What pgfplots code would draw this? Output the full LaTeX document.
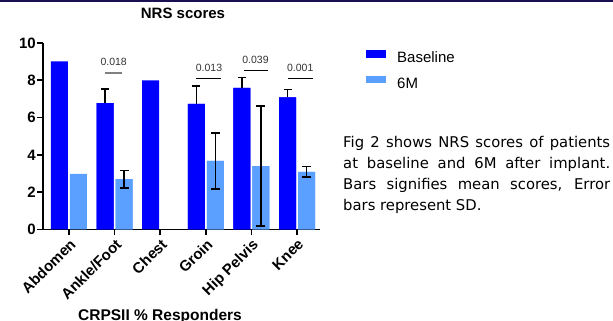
\documentclass[border=0pt]{standalone}
\usepackage{fontspec}
\setmainfont{Liberation Sans}
\newfontfamily\capfont{DejaVu Sans}
\usepackage{pgfplots}
\pgfplotsset{compat=1.18}
\definecolor{basec}{HTML}{0000FF}
\definecolor{sixm}{HTML}{5CA0FF}
\definecolor{topbar}{HTML}{1A0F50}
\definecolor{sigtext}{HTML}{333333}
\begin{document}
\begin{tikzpicture}
\useasboundingbox (0,0) rectangle (613pt,321pt);
\fill[topbar] (0,319.3pt) rectangle (613pt,321pt);
\begin{axis}[
  at={(43pt,91.5pt)}, anchor=south west,
  scale only axis, width=277pt, height=186.5pt,
  xmin=-0.57, xmax=5.504, ymin=0, ymax=10,
  axis x line*=bottom, axis y line*=left,
  axis line style={line width=1.6pt, black, -},
  ytick={0,2,4,6,8,10},
  xtick={0,1,2,3,4,5},
  xticklabels={Abdomen,Ankle/Foot,Chest,Groin,Hip Pelvis,Knee},
  tick align=outside, major tick length=6pt,
  tick style={line width=1.6pt, black},
  /pgf/number format/assume math mode=true,
  ticklabel style={font=\fontsize{15}{18}\selectfont\bfseries},
  yticklabel style={inner sep=1pt},
  xticklabel style={rotate=45, anchor=north east, inner sep=1.5pt},
  ybar, bar width=17pt,
  clip=false,
  legend style={at={(1.1661,0.962)}, anchor=north west, draw=none, fill=none,
    font=\fontsize{15}{18}\selectfont, inner sep=0pt, row sep=11.5pt, column sep=11pt,
    nodes={inner sep=0pt}},
  legend cell align=left,
  legend image code/.code={\fill[#1] (0pt,0.5pt) rectangle (20pt,8pt);},
]
\addplot[fill=basec, draw=none, bar shift=-9.5pt] coordinates {(0,9.02) (1,6.78) (2,8.0) (3,6.73) (4,7.59) (5,7.09)};
\addlegendentry{Baseline}
\addplot[fill=sixm, draw=none, bar shift=9.5pt] coordinates {(0,2.98) (1,2.70) (3,3.68) (4,3.40) (5,3.09)};
\addlegendentry{6M}
\addplot[forget plot, fill=basec, draw=none, bar shift=-9.5pt,
  error bars/.cd, y dir=plus, y explicit,
  error bar style={black, line width=1.2pt},
  error mark options={rotate=90, mark size=4pt, line width=1.6pt, black}]
  coordinates {(1,6.78) +- (0,0.74) (3,6.73) +- (0,0.97) (4,7.59) +- (0,0.55) (5,7.09) +- (0,0.41)};
\addplot[forget plot, fill=sixm, draw=none, bar shift=9.5pt,
  error bars/.cd, y dir=both, y explicit,
  error bar style={black, line width=1.2pt},
  error mark options={rotate=90, mark size=4.5pt, line width=1.6pt, black}]
  coordinates {(1,2.70) +- (0,0.47) (3,3.68) +- (0,1.51) (4,3.40) +- (0,3.22) (5,3.09) +- (0,0.28)};
% significance annotations
\draw[gray, line width=2pt] (axis cs:0.80,8.41) -- (axis cs:1.16,8.41);
\draw[black, line width=1pt] (axis cs:2.78,8.11) -- (axis cs:3.33,8.11);
\draw[black, line width=1pt] (axis cs:3.84,8.54) -- (axis cs:4.37,8.54);
\draw[black, line width=1pt] (axis cs:4.80,8.11) -- (axis cs:5.35,8.11);
\node[font=\fontsize{10.5}{12}\selectfont, text=sigtext] at (axis cs:0.98,8.98) {0.018};
\node[font=\fontsize{10.5}{12}\selectfont, text=sigtext] at (axis cs:3.07,8.68) {0.013};
\node[font=\fontsize{10.5}{12}\selectfont, text=sigtext] at (axis cs:4.09,9.10) {0.039};
\node[font=\fontsize{10.5}{12}\selectfont, text=sigtext] at (axis cs:5.07,8.68) {0.001};
\end{axis}
\node[anchor=base, font=\fontsize{15}{18}\selectfont\bfseries] at (183pt,302pt) {NRS scores};
\node[anchor=base, font=\fontsize{15.5}{18}\selectfont\bfseries] at (160pt,0.5pt) {CRPSII \% Responders};
\node[anchor=north west, inner sep=0pt, text width=267pt, align=justify,
  font=\capfont\fontsize{14.8}{20.7}\selectfont] at (343pt,184.5pt)
  {Fig 2 shows NRS scores of patients\linebreak at baseline and 6M after implant.\linebreak Bars signifies mean scores, Error\linebreak bars represent SD.};
\end{tikzpicture}
\end{document}
